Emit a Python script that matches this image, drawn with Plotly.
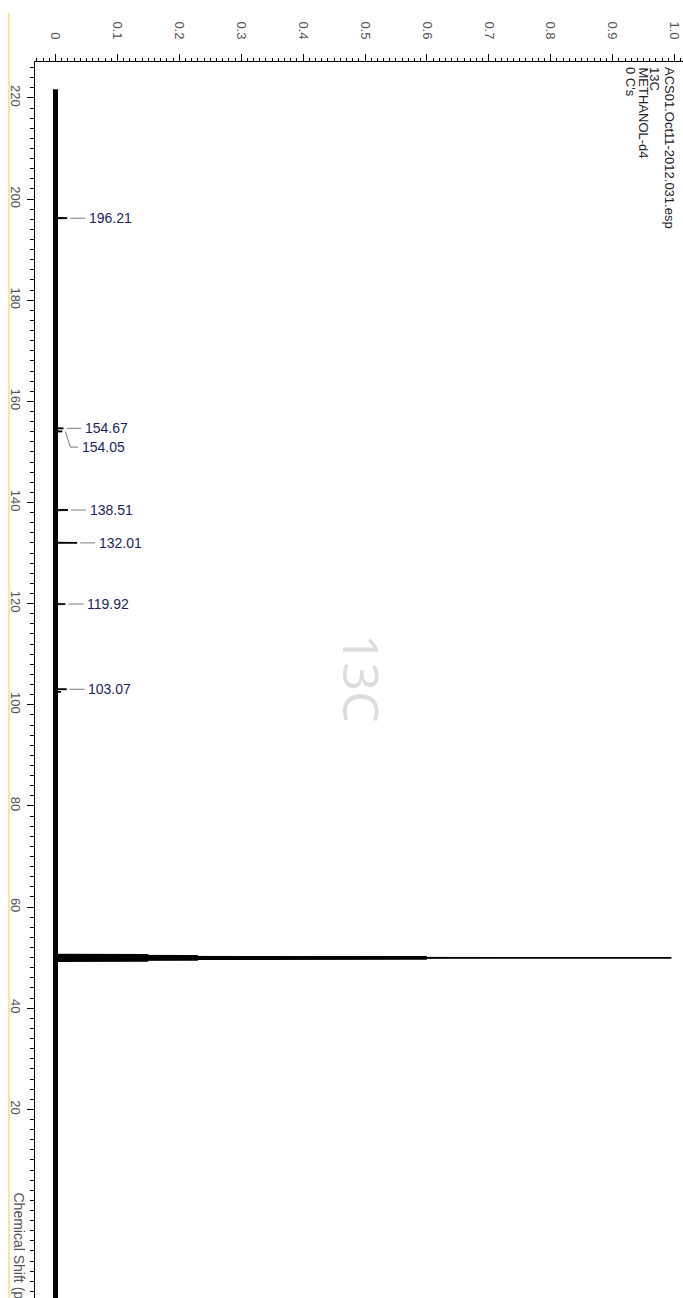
import plotly.graph_objects as go

# ---- spectrum data (13C, METHANOL-d4) ----
peak_shifts = [196.21, 154.67, 154.05, 138.51, 132.01, 119.92, 103.07]
peak_heights = [0.019, 0.013, 0.011, 0.020, 0.035, 0.016, 0.018]
peak_labels = ["196.21", "154.67", "154.05", "138.51", "132.01", "119.92", "103.07"]
label_offsets_ppm = [0.0, 0.0, -3.1, 0.0, 0.0, 0.0, 0.0]

minor_shifts = [102.55]
minor_heights = [0.009]

solvent_shifts = [50.55, 50.35, 50.15, 49.95, 49.75, 49.55, 49.35]
solvent_heights = [0.15, 0.23, 0.60, 0.995, 0.60, 0.23, 0.15]

ppm_start, ppm_end = 221.7, -20.0

# axis ticks
int_tickvals = [0.0, 0.1, 0.2, 0.3, 0.4, 0.5, 0.6, 0.7, 0.8, 0.9, 1.0]
int_ticktext = ["0", "0.1", "0.2", "0.3", "0.4", "0.5", "0.6", "0.7", "0.8", "0.9", "1.0"]
ppm_tickvals = [20, 40, 60, 80, 100, 120, 140, 160, 180, 200, 220]
ppm_ticktext = [str(v) for v in ppm_tickvals]

header_lines = ["ACS01.Oct11-2012.031.esp", "13C", "METHANOL-d4", "0 C's"]

W, H = 683, 1298
ML, MT = 35, 62
PW, PH = W - ML, H - MT

x_range = [-0.0331, 1.0137]
y_range = [-17.3, 227.1]

# stick spectrum: one narrow spike per line, drawn from the baseline
half_w = 0.04
sticks = sorted(
    list(zip(peak_shifts, peak_heights))
    + list(zip(minor_shifts, minor_heights))
    + list(zip(solvent_shifts, solvent_heights)),
    key=lambda t: -t[0],
)
sx, sy = [], []
for p, h in sticks:
    sx += [0, h, 0, None]
    sy += [p + half_w, p, p - half_w, None]

fig = go.Figure()

# baseline (noise band)
fig.add_trace(go.Scatter(
    x=[0, 0], y=[ppm_start, ppm_end], mode="lines",
    line=dict(color="black", width=5), hoverinfo="skip", showlegend=False,
))
fig.add_trace(go.Scatter(
    x=sx, y=sy, mode="lines",
    line=dict(color="black", width=1.8), hoverinfo="skip", showlegend=False,
))

# peak labels with connectors
label_color = "#1c1f5e"
conn_color = "#7a7a7a"
shapes = []
annotations = []
for p, h, lab, off in zip(peak_shifts, peak_heights, peak_labels, label_offsets_ppm):
    x0 = h + 0.005
    x1 = h + 0.029
    yl = p + off
    if off == 0:
        shapes.append(dict(type="line", xref="x", yref="y", x0=x0, x1=x1, y0=p, y1=p,
                           line=dict(color=conn_color, width=1)))
        tx = x1 + 0.003
    else:
        xb = x0 + 0.008
        shapes.append(dict(type="line", xref="x", yref="y", x0=x0, x1=xb, y0=p, y1=yl,
                           line=dict(color=conn_color, width=1)))
        shapes.append(dict(type="line", xref="x", yref="y", x0=xb, x1=xb + 0.013, y0=yl, y1=yl,
                           line=dict(color=conn_color, width=1)))
        tx = xb + 0.016
    annotations.append(dict(
        x=tx, y=yl, xref="x", yref="y", text=lab, showarrow=False,
        xanchor="left", yanchor="middle",
        font=dict(family="Liberation Sans, Arial", size=14, color=label_color),
    ))


def px_x(px):
    return (px - ML) / PW


def px_y(py):
    return 1 - (py - MT) / PH


# header block (rotated)
header_x = [670, 655, 643, 631]
for txt, hx in zip(header_lines, header_x):
    annotations.append(dict(
        x=px_x(hx), y=px_y(65), xref="paper", yref="paper", text=txt,
        showarrow=False, textangle=90, xanchor="center", yanchor="top",
        font=dict(family="Liberation Sans, Arial", size=13, color="#222222"),
    ))

# watermark
annotations.append(dict(
    x=px_x(362), y=px_y(678), xref="paper", yref="paper", text="13C",
    showarrow=False, textangle=90, xanchor="center", yanchor="middle",
    font=dict(family="Open Sans, Liberation Sans", size=50, color="#dcdcdc"),
))

# axis title (runs off the bottom edge)
annotations.append(dict(
    x=px_x(19), y=px_y(1190), xref="paper", yref="paper", text="Chemical Shift (ppm)",
    showarrow=False, textangle=90, xanchor="center", yanchor="top",
    font=dict(family="Liberation Sans, Arial", size=14, color="#555555"),
))

# pale yellow edge line
shapes.append(dict(type="line", xref="paper", yref="paper",
                   x0=px_x(9), x1=px_x(9), y0=px_y(13), y1=px_y(H),
                   line=dict(color="#f4e7a8", width=2)))

tick_font = dict(family="Liberation Sans, Arial", size=13, color="#555555")

fig.update_layout(
    width=W, height=H,
    margin=dict(l=ML, r=0, t=MT, b=0, pad=0),
    paper_bgcolor="white", plot_bgcolor="white",
    showlegend=False,
    shapes=shapes,
    annotations=annotations,
    xaxis=dict(
        side="top", range=x_range, showgrid=False, zeroline=False,
        showline=True, linecolor="black", linewidth=1,
        tickmode="array", tickvals=int_tickvals, ticktext=int_ticktext,
        ticks="outside", ticklen=7, tickcolor="black", tickwidth=1,
        tickangle=90, tickfont=tick_font, ticklabelstandoff=10,
        minor=dict(tickmode="linear", tick0=0, dtick=0.01, ticks="outside",
                   ticklen=3, tickcolor="black", tickwidth=1, showgrid=False),
    ),
    yaxis=dict(
        range=y_range, showgrid=False, zeroline=False,
        showline=True, linecolor="black", linewidth=1,
        tickmode="array", tickvals=ppm_tickvals, ticktext=ppm_ticktext,
        ticks="outside", ticklen=7, tickcolor="black", tickwidth=1,
        tickangle=90, tickfont=tick_font,
        minor=dict(tickmode="linear", tick0=0, dtick=2, ticks="outside",
                   ticklen=4, tickcolor="black", tickwidth=1, showgrid=False),
    ),
)

fig.write_html("out.html")
